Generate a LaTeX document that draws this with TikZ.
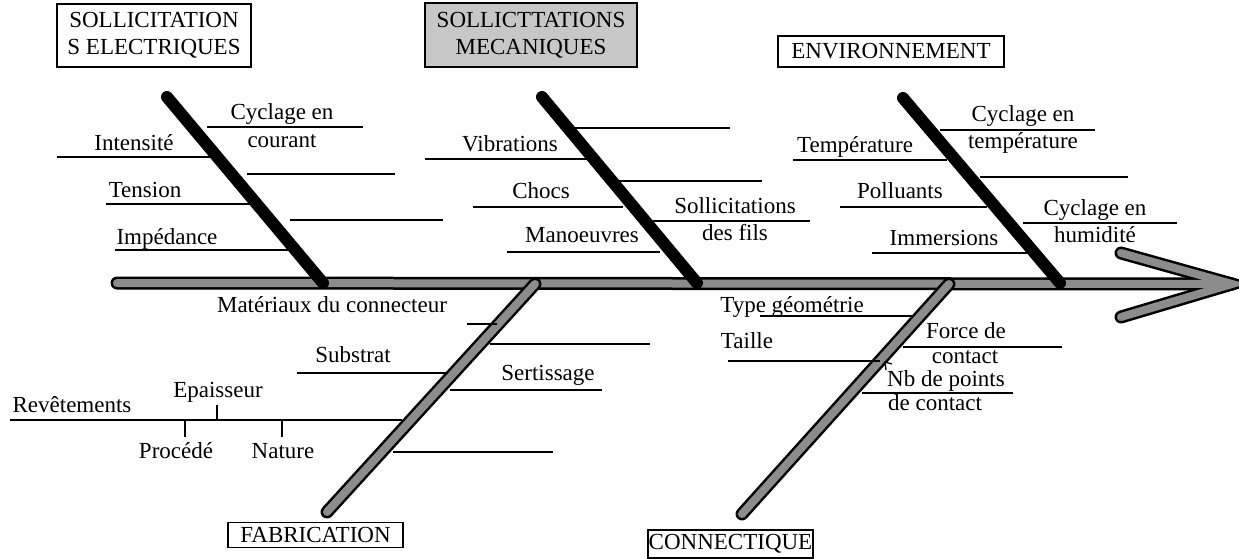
\documentclass[tikz,border=0pt]{standalone}
\usepackage{fontspec}
\setmainfont{Liberation Serif}
\begin{document}
\begin{tikzpicture}[x=1pt,y=-1pt,
  lbl/.style={font=\fontsize{23}{27}\selectfont, inner sep=0pt, anchor=base},
  box/.style={draw, line width=1.3pt, font=\fontsize{23}{27}\selectfont, inner sep=0pt, align=center},
  bone/.style={line width=12pt, line cap=round, black},
  gbone/.style={line width=13pt, line cap=round, black},
  ginner/.style={line width=8pt, line cap=round, black!45},
  sub/.style={line width=1.1pt},
  tick/.style={line width=1.1pt}]
\useasboundingbox (0,0) rectangle (1239,559);

% ---------- main spine and arrow ----------
\coordinate (spL) at (117,283);
\coordinate (spR) at (1232,284);
\coordinate (arU) at (1121,253);
\coordinate (arD) at (1121,317);
\draw[gbone] (spL) -- (spR);
\draw[gbone] (arU) -- (spR) -- (arD);
\draw[ginner] (spL) -- (spR);
\draw[ginner] (arU) -- (spR) -- (arD);

% ---------- upper bones ----------
\coordinate (b1t) at (167,97);  \coordinate (b1b) at (323,283);
\coordinate (b2t) at (542,97);  \coordinate (b2b) at (697,283);
\coordinate (b3t) at (903,98);  \coordinate (b3b) at (1060,283);
\draw[bone] (b1t) -- (b1b);
\draw[bone] (b2t) -- (b2b);
\draw[bone] (b3t) -- (b3b);

% ---------- lower bones ----------
\coordinate (b4t) at (535,284); \coordinate (b4b) at (327,512);
\coordinate (b5t) at (949,284); \coordinate (b5b) at (742,514);
\draw[gbone] (b4t) -- (b4b);
\draw[gbone] (b5t) -- (b5b);
\draw[ginner] (b4t) -- (b4b);
\draw[ginner] (b5t) -- (b5b);

% ---------- category boxes ----------
\node[box, minimum width=194pt, minimum height=63pt] (elec) at (154,35.5) {SOLLICITATION\\S ELECTRIQUES};
\node[box, fill=black!22, minimum width=212pt, minimum height=64pt] (meca) at (531,35) {SOLLICTTATIONS\\MECANIQUES};
\node[box, minimum width=226pt, minimum height=31pt] (env) at (891,51.5) {ENVIRONNEMENT};
\node[box, minimum width=175pt, minimum height=25pt] (fab) at (315.5,535) {FABRICATION};
\node[box, minimum width=165pt, minimum height=28pt] (conn) at (730.5,544) {CONNECTIQUE};

% ---------- electrical ----------
\coordinate (e1a) at (207,127); \coordinate (e1b) at (363,127);
\coordinate (e2a) at (57,157);  \coordinate (e2b) at (213,157);
\coordinate (e3a) at (247,174); \coordinate (e3b) at (395,174);
\coordinate (e4a) at (106,204); \coordinate (e4b) at (260,204);
\coordinate (e5a) at (290,220); \coordinate (e5b) at (443,220);
\coordinate (e6a) at (115,250); \coordinate (e6b) at (300,250);
\foreach \i in {1,...,6} \draw[sub] (e\i a) -- (e\i b);
\node[lbl] (cyc1) at (282,120) {Cyclage en};
\node[lbl] (cou) at (282,147) {courant};
\node[lbl] (int) at (134,150) {Intensité};
\node[lbl] (ten) at (145,197) {Tension};
\node[lbl] (imp) at (167,244) {Impédance};

% ---------- mechanical ----------
\coordinate (m1a) at (573,128); \coordinate (m1b) at (730,128);
\coordinate (m2a) at (425,159); \coordinate (m2b) at (590,159);
\coordinate (m3a) at (617,181); \coordinate (m3b) at (762,181);
\coordinate (m4a) at (473,207); \coordinate (m4b) at (623,207);
\coordinate (m5a) at (653,221); \coordinate (m5b) at (810,221);
\coordinate (m6a) at (507,252); \coordinate (m6b) at (660,252);
\foreach \i in {1,...,6} \draw[sub] (m\i a) -- (m\i b);
\node[lbl] (vib) at (510,151) {Vibrations};
\node[lbl] (cho) at (541,198) {Chocs};
\node[lbl] (sol) at (735,213) {Sollicitations};
\node[lbl] (fil) at (735,240) {des fils};
\node[lbl] (man) at (582,242) {Manoeuvres};

% ---------- environment ----------
\coordinate (v1a) at (940,130);  \coordinate (v1b) at (1095,130);
\coordinate (v2a) at (793,160);  \coordinate (v2b) at (947,160);
\coordinate (v3a) at (980,177);  \coordinate (v3b) at (1128,177);
\coordinate (v4a) at (840,207);  \coordinate (v4b) at (987,207);
\coordinate (v5a) at (1023,223); \coordinate (v5b) at (1177,223);
\coordinate (v6a) at (872,253);  \coordinate (v6b) at (1027,253);
\foreach \i in {1,...,6} \draw[sub] (v\i a) -- (v\i b);
\node[lbl] (cyc2) at (1023,122) {Cyclage en};
\node[lbl] (tpc) at (1023,149) {température};
\node[lbl] (tem) at (855,152) {Température};
\node[lbl] (pol) at (900,198) {Polluants};
\node[lbl] (cyc3) at (1095,215) {Cyclage en};
\node[lbl] (hum) at (1095,242) {humidité};
\node[lbl] (imm) at (944,245) {Immersions};

% ---------- fabrication ----------
\coordinate (f1a) at (467,324); \coordinate (f1b) at (497,324);
\coordinate (f2a) at (490,344); \coordinate (f2b) at (650,344);
\coordinate (f3a) at (297,373); \coordinate (f3b) at (448,373);
\coordinate (f4a) at (450,390); \coordinate (f4b) at (602,390);
\coordinate (f5a) at (10,420);  \coordinate (f5b) at (402,420);
\coordinate (f6a) at (393,452); \coordinate (f6b) at (553,452);
\foreach \i in {1,...,6} \draw[sub] (f\i a) -- (f\i b);
\coordinate (tE) at (217,405); \coordinate (tEb) at (217,420);
\coordinate (tP) at (185,420); \coordinate (tPb) at (185,437);
\coordinate (tN) at (282,420); \coordinate (tNb) at (282,437);
\draw[tick] (tE) -- (tEb);
\draw[tick] (tP) -- (tPb);
\draw[tick] (tN) -- (tNb);
\node[lbl] (mat) at (332,312) {Matériaux du connecteur};
\node[lbl] (sub) at (353,362) {Substrat};
\node[lbl] (ser) at (548,380) {Sertissage};
\node[lbl] (rev) at (72,412) {Revêtements};
\node[lbl] (epa) at (218,397) {Epaisseur};
\node[lbl] (pro) at (176,458) {Procédé};
\node[lbl] (nat) at (283,458) {Nature};

% ---------- connectique ----------
\coordinate (c1a) at (760,316); \coordinate (c1b) at (913,316);
\coordinate (c2a) at (728,361); \coordinate (c2b) at (880,361);
\coordinate (c3a) at (903,347); \coordinate (c3b) at (1062,347);
\coordinate (c4a) at (862,393); \coordinate (c4b) at (1013,393);
\foreach \i in {1,...,4} \draw[sub] (c\i a) -- (c\i b);
\node[lbl] (typ) at (792,312) {Type géométrie};
\node[lbl] (tai) at (747,348) {Taille};
\node[lbl] (for) at (966,338) {Force de};
\node[lbl] (con) at (965,363) {contact};
\node[lbl] (nbp) at (946,386) {Nb de points};
\node[lbl] (dec) at (935,410) {de contact};
\coordinate (mk1) at (885,362); \coordinate (mk2) at (892,364); \coordinate (mk3) at (886,370);
\draw[line width=1.3pt] (mk2) -- (mk1) -- (mk3);
\end{tikzpicture}
\end{document}
